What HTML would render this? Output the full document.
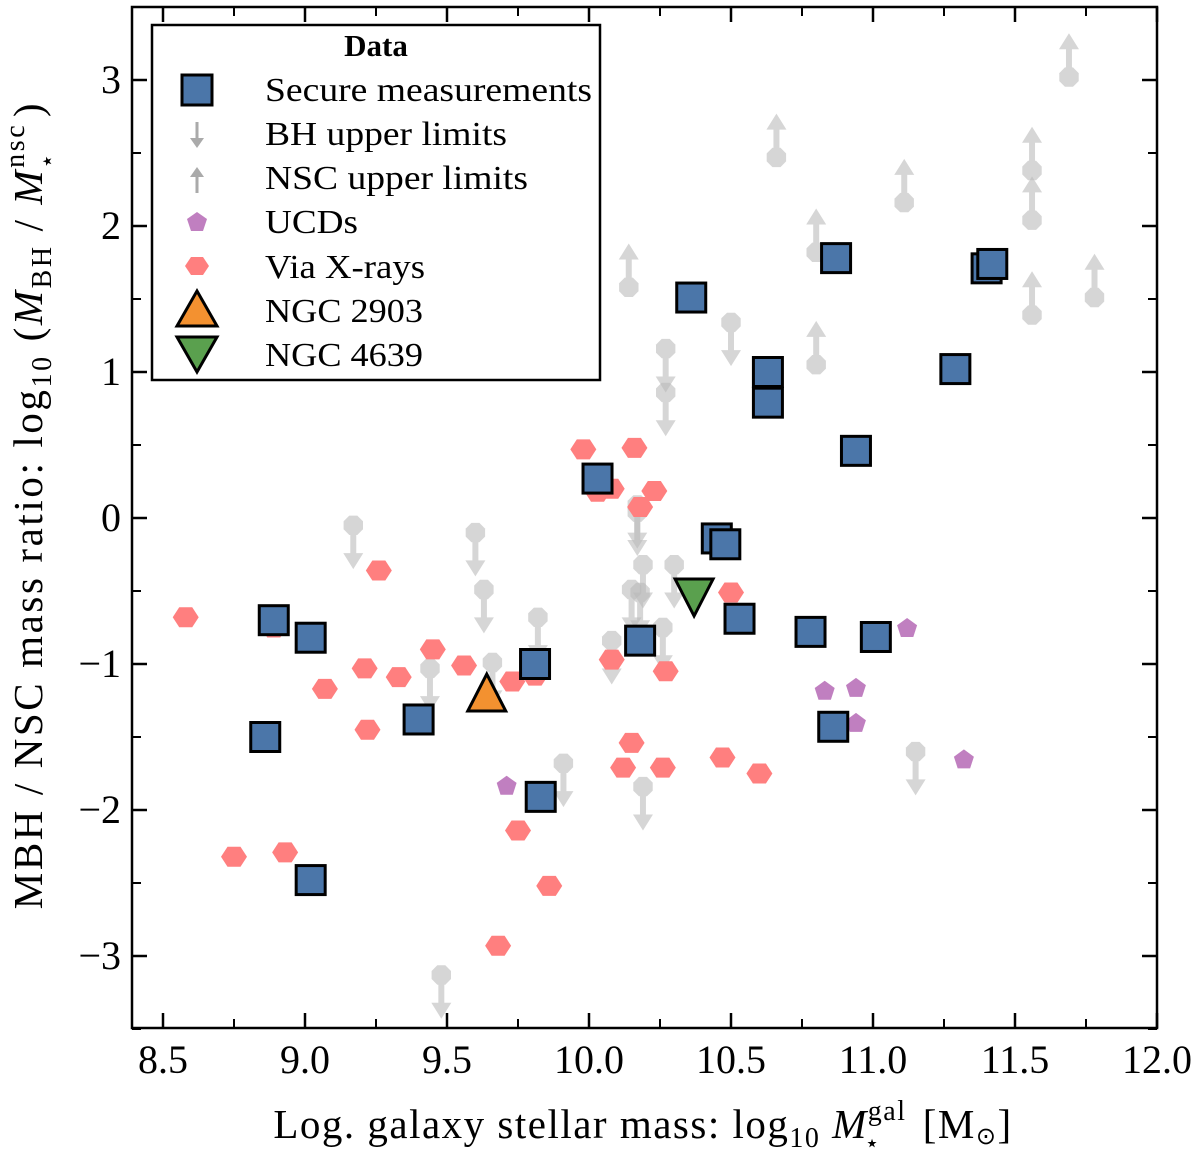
<!DOCTYPE html>
<html><head><meta charset="utf-8"><style>
html,body{margin:0;padding:0;background:#fff;}
svg{display:block;font-family:"Liberation Serif",serif;}
</style></head><body>
<svg id="chart" width="1200" height="1153" viewBox="0 0 1200 1153">
<g id="marks"></g>
<g id="axes"></g>
<g id="legend">
  <rect x="152" y="25" width="448" height="355" fill="#fff" stroke="#000" stroke-width="2.5"/>
  <text x="376" y="56" font-size="31" font-weight="bold" text-anchor="middle">Data</text>
  <g>
    <rect x="182" y="75" width="30" height="30" fill="#4b76a9" stroke="#000" stroke-width="3"/>
    <text x="265" y="101" font-size="34" textLength="327" lengthAdjust="spacingAndGlyphs">Secure measurements</text></g>
  <g>
    <line x1="197" y1="122" x2="197" y2="140" stroke="#aaa" stroke-width="3"/>
    <path d="M190 138 L204 138 L197 148 Z" fill="#aaa"/>
    <text x="265" y="145" font-size="34" textLength="242" lengthAdjust="spacingAndGlyphs">BH upper limits</text></g>
  <g>
    <line x1="197" y1="175" x2="197" y2="193" stroke="#aaa" stroke-width="3"/>
    <path d="M190 177 L204 177 L197 167 Z" fill="#aaa"/>
    <text x="265" y="189" font-size="34" textLength="263" lengthAdjust="spacingAndGlyphs">NSC upper limits</text></g>
  <g>
    <path d="M197 212 L207 219 L203 231 L191 231 L187 219 Z" fill="#c07fc0"/>
    <text x="265" y="233" font-size="34" textLength="93" lengthAdjust="spacingAndGlyphs">UCDs</text></g>
  <g>
    <path d="M185 266 L191 257 L203 257 L209 266 L203 275 L191 275 Z" fill="#ff7f7f"/>
    <text x="265" y="278" font-size="34" textLength="160" lengthAdjust="spacingAndGlyphs">Via X-rays</text></g>
  <g>
    <path d="M197 291 L217 326 L177 326 Z" fill="#f39130" stroke="#000" stroke-width="3"/>
    <text x="265" y="322" font-size="34" textLength="158" lengthAdjust="spacingAndGlyphs">NGC 2903</text></g>
  <g>
    <path d="M177 337 L217 337 L197 372 Z" fill="#5aa04e" stroke="#000" stroke-width="3"/>
    <text x="265" y="366" font-size="34" textLength="158" lengthAdjust="spacingAndGlyphs">NGC 4639</text></g>
</g>
<text x="643" y="1138" font-size="41" letter-spacing="1.5" text-anchor="middle">Log. galaxy stellar mass: log<tspan font-size="28" dy="9">10</tspan><tspan dy="-9"> </tspan><tspan font-style="italic">M</tspan><tspan font-size="28" dy="-18">gal</tspan><tspan font-size="24" dx="-42" dy="31">⋆</tspan><tspan dx="30" dy="-13"> [M</tspan><tspan font-size="24" dy="6">⊙</tspan><tspan dy="-6">]</tspan></text>
<text transform="translate(42,505) rotate(-90)" font-size="41" letter-spacing="2.6" text-anchor="middle">MBH / NSC mass ratio: log<tspan font-size="28" dy="9">10</tspan><tspan dy="-9"> (</tspan><tspan font-style="italic">M</tspan><tspan font-size="28" dy="9">BH</tspan><tspan dy="-9"> / </tspan><tspan font-style="italic">M</tspan><tspan font-size="28" dy="-18">nsc</tspan><tspan font-size="24" dx="-46" dy="31">⋆</tspan><tspan dx="34" dy="-13">)</tspan></text>
</svg>
<script>
const secureX=[8.89,9.02,8.86,9.02,9.40,9.81,9.83,10.03,10.18,10.36,10.45,10.48,10.53,10.63,10.63,10.78,10.86,10.87,10.94,11.01,11.29,11.40,11.42];
const secureY=[-0.70,-0.82,-1.50,-2.48,-1.38,-1.00,-1.91,0.27,-0.84,1.51,-0.14,-0.18,-0.69,1.00,0.79,-0.78,-1.43,1.78,0.46,-0.815,1.02,1.71,1.74];
const ucdX=[9.71,10.83,10.94,10.94,11.12,11.32];
const ucdY=[-1.83,-1.18,-1.16,-1.40,-0.75,-1.65];
const xrayX=[8.58,8.75,8.89,8.93,9.07,9.21,9.22,9.26,9.33,9.45,9.56,9.68,9.73,9.75,9.81,9.86,9.98,10.03,10.08,10.08,10.12,10.15,10.16,10.18,10.23,10.26,10.27,10.50,10.47,10.60];
const xrayY=[-0.68,-2.32,-0.75,-2.29,-1.17,-1.03,-1.45,-0.36,-1.09,-0.90,-1.01,-2.93,-1.12,-2.14,-1.08,-2.52,0.47,0.18,0.20,-0.97,-1.71,-1.54,0.48,0.075,0.185,-1.71,-1.05,-0.51,-1.64,-1.75];
const bhLimX=[9.17,9.48,9.44,9.60,9.63,9.66,9.82,9.91,10.08,10.17,10.17,10.19,10.15,10.18,10.30,10.26,10.19,10.27,10.27,10.50,11.15];
const bhLimY=[-0.05,-3.13,-1.03,-0.10,-0.49,-0.99,-0.68,-1.68,-0.84,0.09,0.04,-0.32,-0.49,-0.51,-0.32,-0.75,-1.84,1.16,0.86,1.34,-1.60];
const nscLimX=[10.14,10.66,10.80,10.80,11.11,11.56,11.56,11.56,11.69,11.78];
const nscLimY=[1.58,2.47,1.82,1.05,2.16,2.38,2.04,1.39,3.02,1.51];
const ngc2903=[9.64,-1.24];
const ngc4639=[10.37,-0.50];
const xTicks=[8.5,9.0,9.5,10.0,10.5,11.0,11.5,12.0];
const xTickLabels=["8.5","9.0","9.5","10.0","10.5","11.0","11.5","12.0"];
const yTicks=[-3,-2,-1,0,1,2,3];
const yTickLabels=["−3","−2","−1","0","1","2","3"];
const limitLen=0.3;

const L=132,R=1157,T=7,B=1028;
function X(v){return 163+(v-8.5)*284;}
function Y(v){return 518-v*146;}
const NS="http://www.w3.org/2000/svg";
function mk(tag,attrs,parent){const e=document.createElementNS(NS,tag);for(const k in attrs)e.setAttribute(k,attrs[k]);parent.appendChild(e);return e;}
const marks=document.getElementById('marks');
const axes=document.getElementById('axes');

function octagon(cx,cy,r){let p=[];for(let i=0;i<8;i++){const a=Math.PI/8+i*Math.PI/4;p.push((cx+r*Math.cos(a)).toFixed(1)+","+(cy+r*Math.sin(a)).toFixed(1));}return p.join(" ");}
function limit(x,y,dir,name){
  const g=mk('g',{opacity:'0.6'},marks);
  
  
  const cx=X(x),cy=Y(y),ey=Y(y+dir*limitLen);
  mk('line',{x1:cx,y1:cy,x2:cx,y2:dir<0?ey-14:ey+14,stroke:'#bbb','stroke-width':6},g);
  mk('polygon',{points:octagon(cx,cy,10.5),fill:'#bbb'},g);
  if(dir<0)mk('polygon',{points:`${cx-10},${ey-16} ${cx+10},${ey-16} ${cx},${ey}`,fill:'#bbb'},g);
  else mk('polygon',{points:`${cx-10},${ey+16} ${cx+10},${ey+16} ${cx},${ey}`,fill:'#bbb'},g);
}
for(let i=0;i<bhLimX.length;i++)limit(bhLimX[i],bhLimY[i],-1,'bh-upper-limit');
for(let i=0;i<nscLimX.length;i++)limit(nscLimX[i],nscLimY[i],1,'nsc-upper-limit');
for(let i=0;i<xrayX.length;i++){
  const cx=X(xrayX[i]),cy=Y(xrayY[i]);
  const h=mk('polygon',{points:`${cx-13},${cy} ${cx-6.5},${cy-10} ${cx+6.5},${cy-10} ${cx+13},${cy} ${cx+6.5},${cy+10} ${cx-6.5},${cy+10}`,fill:'#ff7f7f'},marks);
  
  
}
for(let i=0;i<ucdX.length;i++){
  const cx=X(ucdX[i]),cy=Y(ucdY[i]);let p=[];
  for(let k=0;k<5;k++){const a=-Math.PI/2+k*2*Math.PI/5;p.push((cx+10.5*Math.cos(a)).toFixed(1)+","+(cy+1+10.5*Math.sin(a)).toFixed(1));}
  const e=mk('polygon',{points:p.join(" "),fill:'#c07fc0'},marks);
  
  
}
for(let i=0;i<secureX.length;i++){
  const e=mk('rect',{x:X(secureX[i])-14.5,y:Y(secureY[i])-14.5,width:29,height:29,fill:'#4b76a9',stroke:'#000','stroke-width':3},marks);
  
  
}
{const cx=X(ngc2903[0]),cy=Y(ngc2903[1]);
 const e=mk('polygon',{points:`${cx},${cy-25} ${cx+19},${cy+12} ${cx-19},${cy+12}`,fill:'#f39130',stroke:'#000','stroke-width':3},marks);
 
 }
{const cx=X(ngc4639[0]),cy=Y(ngc4639[1]);
 const e=mk('polygon',{points:`${cx-19},${cy-12} ${cx+19},${cy-12} ${cx},${cy+25}`,fill:'#5aa04e',stroke:'#000','stroke-width':3},marks);
 
 }

const fr=mk('rect',{x:L,y:T,width:R-L,height:B-T,fill:'none',stroke:'#000','stroke-width':2.5},axes);


for(let i=0;i<xTicks.length;i++){
  const x=X(xTicks[i]);
  mk('line',{x1:x,y1:B,x2:x,y2:B-15,stroke:'#000','stroke-width':2.5},axes);
  mk('line',{x1:x,y1:T,x2:x,y2:T+15,stroke:'#000','stroke-width':2.5},axes);
  const t=mk('text',{x:x,y:1073,'font-size':40,'text-anchor':'middle'},axes);
  t.textContent=xTickLabels[i];
  
  
  if(i<xTicks.length-1){const m=X(xTicks[i]+0.25);
    mk('line',{x1:m,y1:B,x2:m,y2:B-9,stroke:'#000','stroke-width':2},axes);
    mk('line',{x1:m,y1:T,x2:m,y2:T+9,stroke:'#000','stroke-width':2},axes);}
}
for(let i=0;i<yTicks.length;i++){
  const y=Y(yTicks[i]);
  mk('line',{x1:L,y1:y,x2:L+15,y2:y,stroke:'#000','stroke-width':2.5},axes);
  mk('line',{x1:R,y1:y,x2:R-15,y2:y,stroke:'#000','stroke-width':2.5},axes);
  const t=mk('text',{x:121,y:y+13,'font-size':40,'text-anchor':'end'},axes);
  t.textContent=yTickLabels[i];
  
  
}
for(let v=-3.5;v<=3.5;v+=1){const y=Y(v);
  mk('line',{x1:L,y1:y,x2:L+9,y2:y,stroke:'#000','stroke-width':2},axes);
  mk('line',{x1:R,y1:y,x2:R-9,y2:y,stroke:'#000','stroke-width':2},axes);}
</script>
</body></html>
